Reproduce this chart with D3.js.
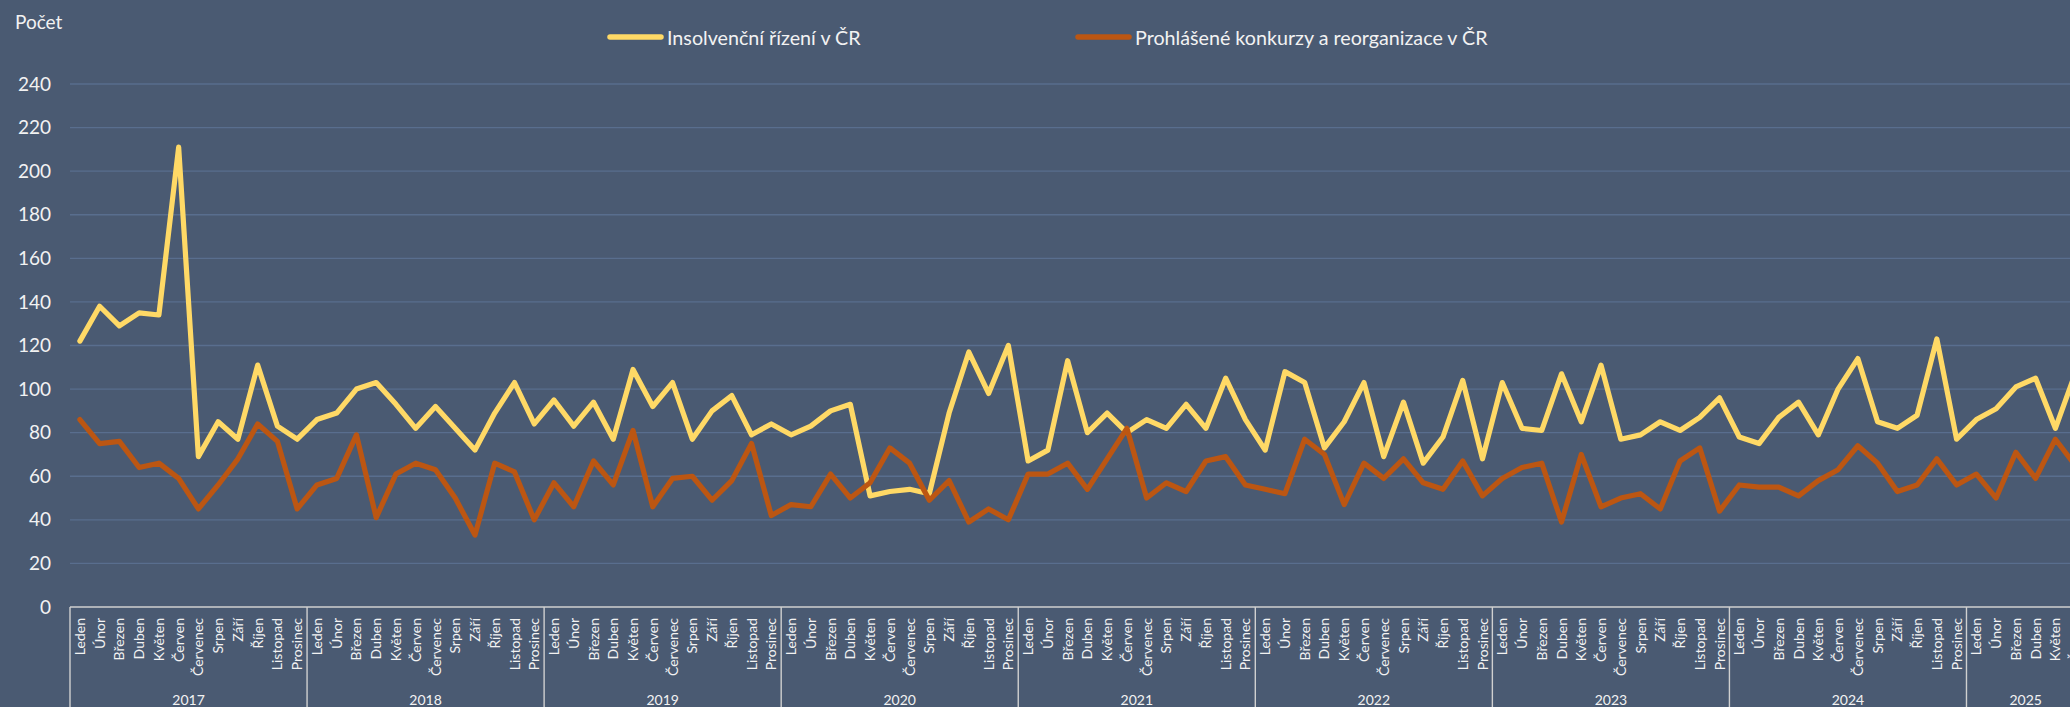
<!DOCTYPE html>
<html><head><meta charset="utf-8">
<script src="https://cdn.jsdelivr.net/npm/d3@7"></script>
<style>
html,body{margin:0;padding:0;background:#4a5a72;overflow:hidden;}
svg{display:block;}
text{font-family:Lato,"Open Sans",sans-serif;fill:#f2f2f2;}
</style></head>
<body>
<svg id="chart" width="2070" height="707"></svg>
<script>
const years = ["2017","2018","2019","2020","2021","2022","2023","2024","2025"];
const monthNames = ["Leden","Únor","Březen","Duben","Květen","Červen","Červenec","Srpen","Září","Říjen","Listopad","Prosinec"];
const monthsIn2025 = 6;
const yTicks = [0,20,40,60,80,100,120,140,160,180,200,220,240];
const seriesNames = ["Insolvenční řízení v ČR","Prohlášené konkurzy a reorganizace v ČR"];
const insolvencni = [
  122,138,129,135,134,211,69,85,77,111,83,77,
  86,89,100,103,93,82,92,82,72,89,103,84,
  95,83,94,77,109,92,103,77,90,97,79,84,
  79,83,90,93,51,53,54,52,89,117,98,120,
  67,72,113,80,89,80,86,82,93,82,105,86,
  72,108,103,73,85,103,69,94,66,78,104,68,
  103,82,81,107,85,111,77,79,85,81,87,96,
  78,75,87,94,79,100,114,85,82,88,123,77,
  86,91,101,105,82,107
];
const konkurzy = [
  86,75,76,64,66,59,45,56,68,84,76,45,
  56,59,79,41,61,66,63,50,33,66,62,40,
  57,46,67,56,81,46,59,60,49,58,75,42,
  47,46,61,50,57,73,66,49,58,39,45,40,
  61,61,66,54,68,82,50,57,53,67,69,56,
  54,52,77,70,47,66,59,68,57,54,67,51,
  59,64,66,39,70,46,50,52,45,67,73,44,
  56,55,55,51,58,63,74,66,53,56,68,56,
  61,50,71,59,77,65
];
const colors = ["#FFD966","#BC5612"];

// build category list
const cats = [];
years.forEach(y => {
  const n = y === "2025" ? monthsIn2025 : 12;
  for (let m = 0; m < n; m++) cats.push({key: y + "-" + m, year: y, month: monthNames[m]});
});

const svg = d3.select("#chart");
const W = 2070, H = 707;
const plotLeft = 70, axisY = 607, topY = 84;
const step = 237.06 / 12;

const x = d3.scaleBand().domain(cats.map(c => c.key)).range([plotLeft, plotLeft + cats.length * step]).paddingInner(0).paddingOuter(0);
const y = d3.scaleLinear().domain([0, 240]).range([axisY, topY]);
const cx = k => x(k) + x.bandwidth() / 2;

// gridlines
svg.append("g").selectAll("line").data(yTicks.filter(t => t > 0)).join("line")
  .attr("x1", plotLeft).attr("x2", W)
  .attr("y1", d => y(d)).attr("y2", d => y(d))
  .attr("stroke", "#596e8e").attr("stroke-width", 1.3);

// y axis labels
const yAxis = d3.axisLeft(y).tickValues(yTicks).tickSize(0).tickPadding(19);
const gy = svg.append("g").attr("transform", `translate(${plotLeft},0)`).call(yAxis);
gy.select(".domain").remove();
gy.selectAll("text").attr("font-size", 19).attr("fill", "#f2f2f2").attr("font-family", "Lato");

// x axis (month labels)
const xAxis = d3.axisBottom(x).tickSize(0).tickFormat(k => cats.find(c => c.key === k).month);
const gx = svg.append("g").attr("transform", `translate(0,${axisY})`).call(xAxis);
gx.select(".domain").remove();
gx.selectAll("text")
  .attr("font-size", 14).attr("font-family", "Lato").attr("fill", "#f2f2f2")
  .attr("text-anchor", "end")
  .attr("transform", "rotate(-90)")
  .attr("x", -11).attr("y", 0).attr("dy", "0.36em");

// axis line
svg.append("line").attr("x1", plotLeft).attr("x2", W).attr("y1", axisY).attr("y2", axisY)
  .attr("stroke", "#d0d0d0").attr("stroke-width", 1.6);

// year groups
const yearGroups = years.map(yr => {
  const ks = cats.filter(c => c.year === yr).map(c => c.key);
  return {year: yr, x0: x(ks[0]), x1: x(ks[ks.length - 1]) + x.bandwidth()};
});
const seps = [yearGroups[0].x0].concat(yearGroups.map(g => g.x1));
svg.append("g").selectAll("line").data(seps).join("line")
  .attr("x1", d => d).attr("x2", d => d).attr("y1", axisY).attr("y2", H)
  .attr("stroke", "#d0d0d0").attr("stroke-width", 1.4);
svg.append("g").selectAll("text").data(yearGroups).join("text")
  .attr("x", d => (d.x0 + d.x1) / 2).attr("y", 699)
  .attr("text-anchor", "middle").attr("dominant-baseline", "central")
  .attr("font-size", 14).text(d => d.year);

// lines
const series = [insolvencni, konkurzy];
const line = d3.line().x((d, i) => cx(cats[i].key)).y(d => y(d));
series.forEach((s, si) => {
  svg.append("path").datum(s).attr("d", line)
    .attr("fill", "none").attr("stroke", colors[si]).attr("stroke-width", 5.2)
    .attr("stroke-linejoin", "round").attr("stroke-linecap", "round");
});

// y title
svg.append("text").attr("x", 15).attr("y", 29).attr("font-size", 19).text("Počet");

// legend
const legendPos = [607, 1075];
seriesNames.forEach((n, i) => {
  const lx = legendPos[i];
  svg.append("line").attr("x1", lx + 3).attr("x2", lx + 54).attr("y1", 37).attr("y2", 37)
    .attr("stroke", colors[i]).attr("stroke-width", 5.5).attr("stroke-linecap", "round");
  svg.append("text").attr("x", lx + 60).attr("y", 37).attr("dominant-baseline", "central")
    .attr("font-size", 19.7).text(n);
});
</script>
</body></html>
